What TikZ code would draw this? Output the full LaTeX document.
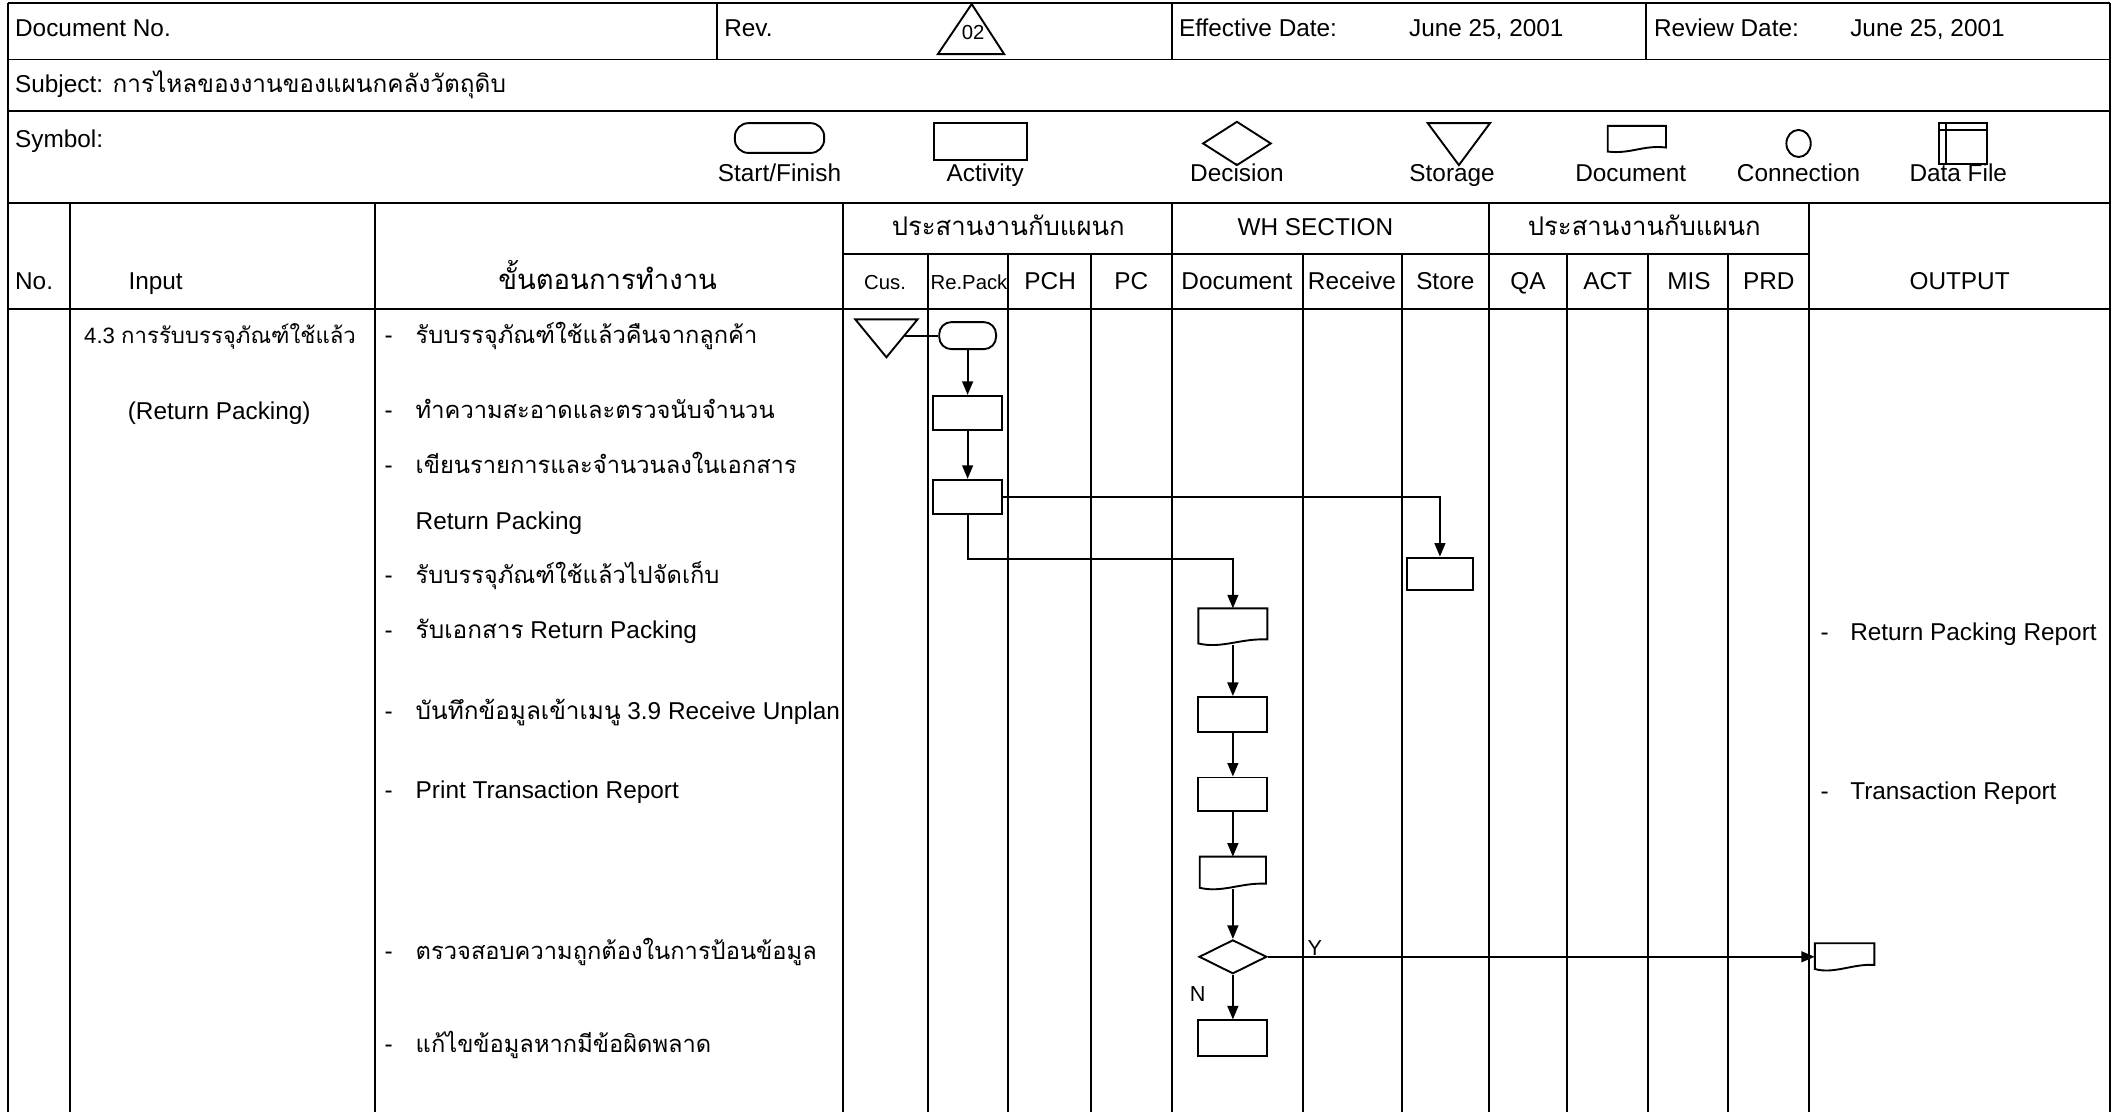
\documentclass[tikz,border=0pt]{standalone}
\usepackage{fontspec}
\setmainfont{Liberation Sans}
\newfontfamily\thai[Script=Thai]{Loma}
\usetikzlibrary{arrows.meta,shapes.geometric,calc}
\newcommand{\docshape}[1]{\draw[fl] (#1.north west) -- (#1.north east) -- ([yshift=4pt]#1.south east) .. controls ([xshift=6pt,yshift=5pt]#1.south) and ([xshift=-8pt,yshift=-3pt]#1.south) .. ([yshift=1pt]#1.south west) -- cycle;}
\tikzset{
  tline/.style={line width=1.4pt},
  fl/.style={line width=1.4pt},
  arr/.style={fl,-{Triangle[length=10pt,width=8pt]}},
  box/.style={draw,line width=1.4pt,minimum width=51pt,minimum height=25pt,inner sep=0pt},
  startbox/.style={draw,line width=1.4pt,rounded corners=9pt,minimum width=42pt,minimum height=20pt,inner sep=0pt},
  ghost/.style={inner sep=0pt,outer sep=0pt},
  dmd/.style={draw,diamond,line width=1.4pt,minimum width=50pt,minimum height=25pt,inner sep=0pt},
  lt/.style={font=\fontsize{18}{20}\selectfont,inner sep=0pt},
  sm/.style={font=\fontsize{15}{17}\selectfont,inner sep=0pt},
  th/.style={font=\thai\fontsize{17.5}{19}\selectfont,inner sep=0pt},
  thh/.style={font=\thai\fontsize{19}{21}\selectfont,inner sep=0pt},
}
\begin{document}
\begin{tikzpicture}[x=1pt,y=-1pt]
\useasboundingbox (0,0) rectangle (1568,822);
\fill[white] (0,0) rectangle (1568,822);
% ---------- table lines
\draw[tline] (6,2) -- (1559,2);
\draw[tline] (6,44) -- (1559,44);
\draw[tline] (6,82) -- (1559,82);
\draw[tline] (6,150) -- (1559,150);
\draw[tline] (623,188) -- (1337,188);
\draw[tline] (6,228) -- (1559,228);
\draw[tline] (6,2) -- (6,822);
\draw[tline] (1559,2) -- (1559,822);
\foreach \x in {530,866,1216} \draw[tline] (\x,2) -- (\x,44);
\foreach \x in {52,277,623,866,1100,1337} \draw[tline] (\x,150) -- (\x,822);
\foreach \x in {686,745,806,963,1036,1158,1218,1277} \draw[tline] (\x,188) -- (\x,822);
% ---------- row 1
\node[lt,anchor=base west] (h1) at (11,27) {Document No.};
\node[lt,anchor=base west] (h2) at (535,27) {Rev.};
\draw[fl] (718,3) -- (742,40) -- (693,40) -- cycle;
\node[sm,anchor=base] (rev) at (719,29) {02};
\node[lt,anchor=base west] (h3) at (871,27) {Effective Date:};
\node[lt,anchor=base west] (h4) at (1041,27) {June 25, 2001};
\node[lt,anchor=base west] (h5) at (1222,27) {Review Date:};
\node[lt,anchor=base west] (h6) at (1367,27) {June 25, 2001};
% ---------- row 2
\node[lt,anchor=base west] (sb) at (11,68) {Subject:};
\node[font=\thai\fontsize{18}{20}\selectfont,inner sep=0pt,anchor=base west] (sbt) at (83,68) {การไหลของงานของแผนกคลังวัตถุดิบ};
% ---------- symbol row
\node[lt,anchor=base west] (sy) at (11,109) {Symbol:};
\draw[fl,rounded corners=10pt] (543,91) rectangle (609,113);
\draw[fl] (690,91) rectangle (759,118);
\draw[fl] (889,106) -- (914,90) -- (939,106) -- (914,122) -- cycle;
\draw[fl] (1055,91) -- (1101,91) -- (1078,122) -- cycle;
\draw[fl] (1188,93) -- (1231,93) -- (1231,109) .. controls (1214,107) and (1205,114) .. (1188,112) -- cycle;
\draw[fl] (1329,106) ellipse [x radius=9, y radius=10];
\draw[fl] (1433,91) rectangle (1468,121);
\draw[fl] (1433,96) -- (1468,96);
\draw[fl] (1438,91) -- (1438,121);
\foreach \x/\t/\n in {576/Start\slash Finish/l1,728/Activity/l2,914/Decision/l3,1073/Storage/l4,1205/Document/l5,1329/Connection/l6,1447/Data File/l7}
  \node[lt,anchor=base] (\n) at (\x,134) {\t};
% ---------- header
\node[thh,anchor=base] (g1) at (745,174) {ประสานงานกับแผนก};
\node[lt,anchor=base] (g2) at (972,174) {WH SECTION};
\node[thh,anchor=base] (g3) at (1215,174) {ประสานงานกับแผนก};
\node[lt,anchor=base west] (c0) at (11,214) {No.};
\node[lt,anchor=base] (c1) at (115,214) {Input};
\node[font=\thai\fontsize{20.3}{22}\selectfont,inner sep=0pt,anchor=base] (c2) at (449,214) {ขั้นตอนการทำงาน};
\node[sm,anchor=base] (c3) at (654,214) {Cus.};
\node[sm,anchor=base] (c4) at (716,214) {Re.Pack};
\foreach \x/\t/\n in {776/PCH/c5,836/PC/c6,914/Document/c7,999/Receive/c8,1068/Store/c9,1129/QA/c10,1188/ACT/c11,1248/MIS/c12,1307/PRD/c13,1448/OUTPUT/c14}
  \node[lt,anchor=base] (\n) at (\x,214) {\t};
% ---------- input column
\node[font=\fontsize{16.4}{18}\selectfont,inner sep=0pt,anchor=base west] (in1) at (62,254) {4.3 {\thai การรับบรรจุภัณฑ์ใช้แล้ว}};
\node[lt,anchor=base] (in2) at (162,310) {(Return Packing)};
% ---------- steps
\foreach \y/\n in {254/d1,309/d2,350/d3,431/d5,472/d6,532/d7,590/d8,709/d9,778/d10}
  \node[lt,anchor=base west] (s\n) at (284,\y) {-};
\node[th,anchor=base west] (p1) at (307,254) {รับบรรจุภัณฑ์ใช้แล้วคืนจากลูกค้า};
\node[th,anchor=base west] (p2) at (307,309) {ทำความสะอาดและตรวจนับจำนวน};
\node[th,anchor=base west] (p3) at (307,350) {เขียนรายการและจำนวนลงในเอกสาร};
\node[lt,anchor=base west] (p4) at (307,391) {Return Packing};
\node[th,anchor=base west] (p5) at (307,431) {รับบรรจุภัณฑ์ใช้แล้วไปจัดเก็บ};
\node[lt,anchor=base west] (p6) at (307,472) {{\thai รับเอกสาร} Return Packing};
\node[lt,anchor=base west] (p7) at (307,532) {{\thai บันทึกข้อมูลเข้าเมนู} 3.9 Receive Unplan};
\node[lt,anchor=base west] (p8) at (307,590) {Print Transaction Report};
\node[th,anchor=base west] (p9) at (307,709) {ตรวจสอบความถูกต้องในการป้อนข้อมูล};
\node[th,anchor=base west] (p10) at (307,778) {แก้ไขข้อมูลหากมีข้อผิดพลาด};
% ---------- output
\node[lt,anchor=base west] (o1d) at (1345,473) {-};
\node[lt,anchor=base west] (o1) at (1367,473) {Return Packing Report};
\node[lt,anchor=base west] (o2d) at (1345,591) {-};
\node[lt,anchor=base west] (o2) at (1367,591) {Transaction Report};
% ---------- flow
\node[ghost,minimum width=46pt,minimum height=28pt] (st) at (655,250) {};
\draw[fl] (st.north west) -- (st.north east) -- (st.south) -- cycle;
\node[startbox] (s0) at (715,248) {};
\node[box] (a1) at (715,305) {};
\node[box] (a2) at (715,367) {};
\node[box,minimum width=49pt,minimum height=24pt] (sto) at (1064,424) {};
\node[ghost,minimum width=51pt,minimum height=27pt] (dc1) at (911,463) {};
\docshape{dc1}
\node[box,minimum height=26pt] (a3) at (911,528) {};
\node[box] (a4) at (911,587) {};
\node[ghost,minimum width=49pt,minimum height=24pt] (dc2) at (911,645) {};
\docshape{dc2}
\node[dmd] (dec) at (911,707) {};
\node[box,minimum height=26pt] (a5) at (911,767) {};
\node[ghost,minimum width=44pt,minimum height=20pt] (od) at (1363,707) {};
\docshape{od}
\coordinate (b1) at (911,413);
\draw[fl] ($(s0.west -| st.east)+(-9,0)$) -- (s0.west);
\draw[arr] (s0) -- (a1);
\draw[arr] (a1) -- (a2);
\draw[arr] (a2.east) -| (sto.north);
\draw[arr] (a2.south) |- (b1) -- (dc1.north);
\draw[arr] (dc1) -- (a3);
\draw[arr] (a3) -- (a4);
\draw[arr] (a4) -- (dc2);
\draw[arr] (dc2) -- (dec);
\draw[arr] (dec) -- (a5);
\draw[arr] (dec.east) -- (od.west);
\node[font=\fontsize{16}{18}\selectfont,anchor=base west,inner sep=0pt] (yl) at (966,706) {Y};
\node[font=\fontsize{16}{18}\selectfont,anchor=base west,inner sep=0pt] (nl) at (879,740) {N};
\end{tikzpicture}
\end{document}
